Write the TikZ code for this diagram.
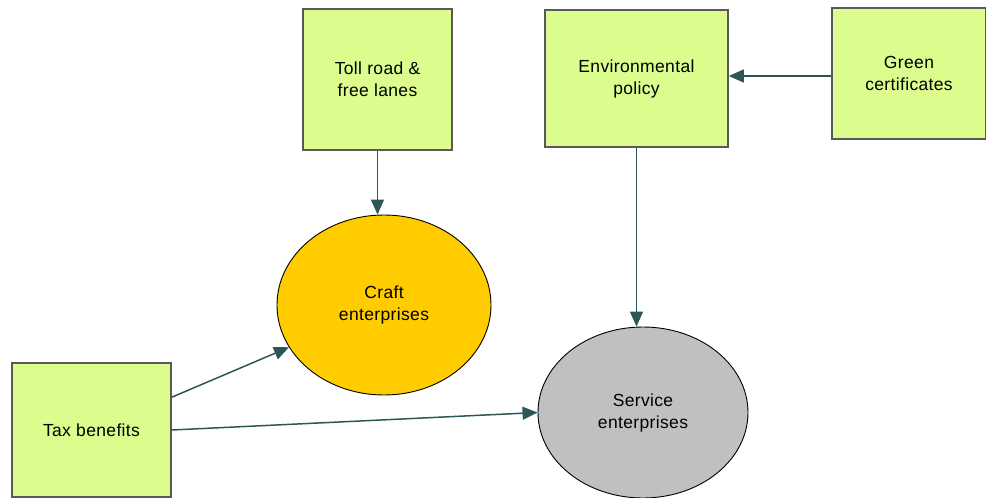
\documentclass[tikz,border=0pt]{standalone}
\usepackage{fontspec}
\setmainfont[LetterSpace=2]{Liberation Sans}
\usepackage{xcolor}
\usepackage{tikz}
\usetikzlibrary{
  positioning,
  calc,
  arrows.meta,
  shapes.geometric
}

\definecolor{boxgreen}{HTML}{DCFC8E}
\definecolor{craftgold}{HTML}{FFCC00}
\definecolor{servgray}{HTML}{C0C0C0}
\definecolor{linkteal}{HTML}{2D5656}

\tikzset{
  factor/.style={draw=black!65, line width=1.6pt, fill=boxgreen,
    align=center, inner sep=0pt, font=\fontsize{17.5}{22}\selectfont},
  firm/.style={ellipse, draw=black, line width=0.9pt,
    align=center, inner sep=0pt, font=\fontsize{17.5}{22}\selectfont},
  link/.style={draw=linkteal, line width=1.5pt,
    -{Triangle[length=15pt,width=13pt]}}
}

\begin{document}
\begin{tikzpicture}[x=1pt, y=-1pt]
  \useasboundingbox (0,0) rectangle (986,498);

  % 四角形:各要因
  \node[factor, minimum width=149pt, minimum height=141pt] (toll) at (377.5,79.5) {Toll road \&\\free lanes};
  \node[factor, minimum width=183pt, minimum height=137pt] (env) at (636.5,78.5) {Environmental\\policy};
  \node[factor, minimum width=154pt, minimum height=131pt] (green) at (909,73.5) {Green\\certificates};
  \node[factor, minimum width=159pt, minimum height=134pt] (tax) at (91.5,430) {Tax benefits};

  % 楕円:企業の種類
  \node[firm, fill=craftgold, minimum width=214pt, minimum height=180pt] (craft) at (384,305) {Craft\\enterprises};
  \node[firm, fill=servgray, minimum width=210pt, minimum height=171pt] (serv) at (643,412.5) {Service\\enterprises};

  % 矢印
  \draw[link] (toll.south) -- (toll.south |- craft.north);
  \draw[link] (env.south) -- (env.south |- serv.north);
  \draw[link] ([yshift=-2.5pt]green.west) -- ([yshift=-2.5pt]green.west -| env.east);
  \draw[link] ([yshift=-35pt]tax.north east) -- (craft.204);
  \draw[link] (tax.east) -- (serv.west);
\end{tikzpicture}
\end{document}
